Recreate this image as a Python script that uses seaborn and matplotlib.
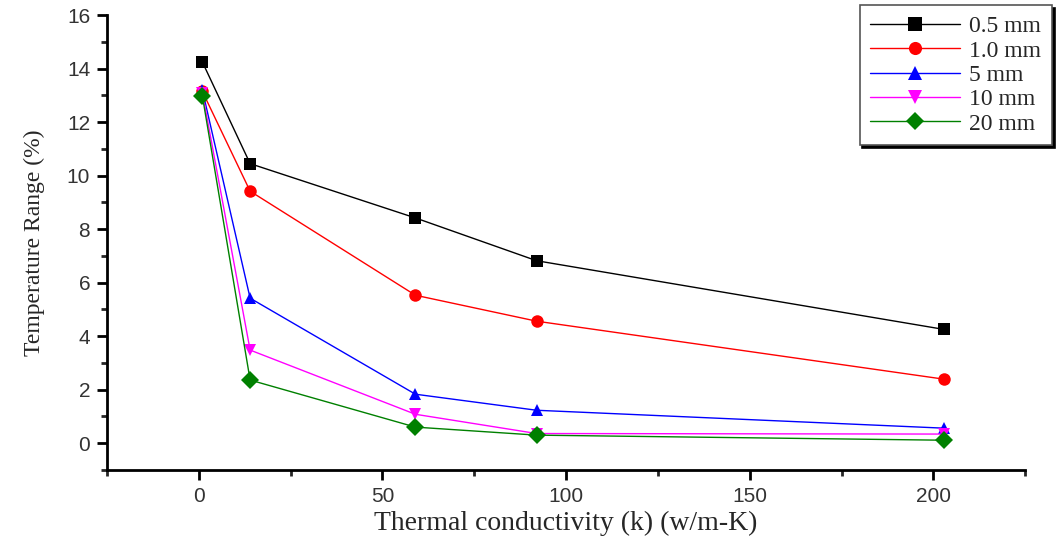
import pandas as pd
import numpy as np
import seaborn as sns
import matplotlib.pyplot as plt
from matplotlib.ticker import MultipleLocator

# thermal conductivity values (x)
conductivity = [1, 14, 59, 92, 203]

# temperature range (%) per thickness
range_05mm = [14.25, 10.45, 8.42, 6.82, 4.25]
range_10mm = [13.15, 9.42, 5.53, 4.56, 2.39]
range_5mm = [13.2, 5.42, 1.83, 1.23, 0.56]
range_10mm_thick = [13.1, 3.48, 1.08, 0.36, 0.34]
range_20mm = [12.98, 2.36, 0.60, 0.30, 0.11]

labels = ['0.5 mm', '1.0 mm', '5 mm', '10 mm', '20 mm']
colors = ['black', 'red', 'blue', 'magenta', 'green']
markers = ['s', 'o', '^', 'v', 'D']

series = [range_05mm, range_10mm, range_5mm, range_10mm_thick, range_20mm]
df = pd.concat(
    [pd.DataFrame({'k': conductivity, 'range': vals, 'size': lab})
     for lab, vals in zip(labels, series)],
    ignore_index=True,
)

sns.set_style('white')
plt.rcParams['font.family'] = ['Liberation Sans', 'DejaVu Sans']

fig = plt.figure(figsize=(10.58, 5.42), dpi=100)
ax = fig.add_axes([0.101, 0.133, 0.868, 0.839])

sns.lineplot(
    data=df, x='k', y='range', hue='size', style='size',
    hue_order=labels, style_order=labels,
    palette=dict(zip(labels, colors)),
    markers=dict(zip(labels, markers)),
    dashes=False, markersize=9, markeredgewidth=0, linewidth=1,
    ax=ax,
)

ax.set_xlim(-25, 225)
ax.set_ylim(-1, 16)
ax.xaxis.set_major_locator(MultipleLocator(50))
ax.xaxis.set_minor_locator(MultipleLocator(25))
ax.yaxis.set_major_locator(MultipleLocator(2))
ax.yaxis.set_minor_locator(MultipleLocator(1))
ax.set_yticks(np.arange(0, 17, 2))

for side in ['top', 'right']:
    ax.spines[side].set_visible(False)
for side in ['left', 'bottom']:
    ax.spines[side].set_linewidth(2)
    ax.spines[side].set_color('black')

ax.tick_params(which='major', direction='out', length=7, width=2,
               labelsize=15, colors='black', left=True, bottom=True, pad=5)
ax.tick_params(which='minor', direction='out', length=4, width=2,
               left=True, bottom=True)
ax.tick_params(axis='both', labelcolor='#333333')

ax.set_xlabel('Thermal conductivity (k) (w/m-K)', family='Liberation Serif',
              fontsize=20, labelpad=4)
ax.set_ylabel('Temperature Range (%)', family='Liberation Serif',
              fontsize=17, labelpad=16)

leg = ax.legend(
    loc='upper right', bbox_to_anchor=(1052 / 1058, 1 - 5 / 542),
    bbox_transform=fig.transFigure, frameon=True, fancybox=False,
    shadow={'color': 'black', 'alpha': 1},
    prop={'family': 'Liberation Serif', 'size': 17},
    handlelength=3.8, labelspacing=0.12, borderpad=0.45, handletextpad=0.4,
    borderaxespad=0, markerscale=1.05,
)
leg.get_frame().set_edgecolor('#555555')
leg.get_frame().set_linewidth(1.2)
leg.get_frame().set_alpha(1)

fig.savefig('out.png', dpi=100)
